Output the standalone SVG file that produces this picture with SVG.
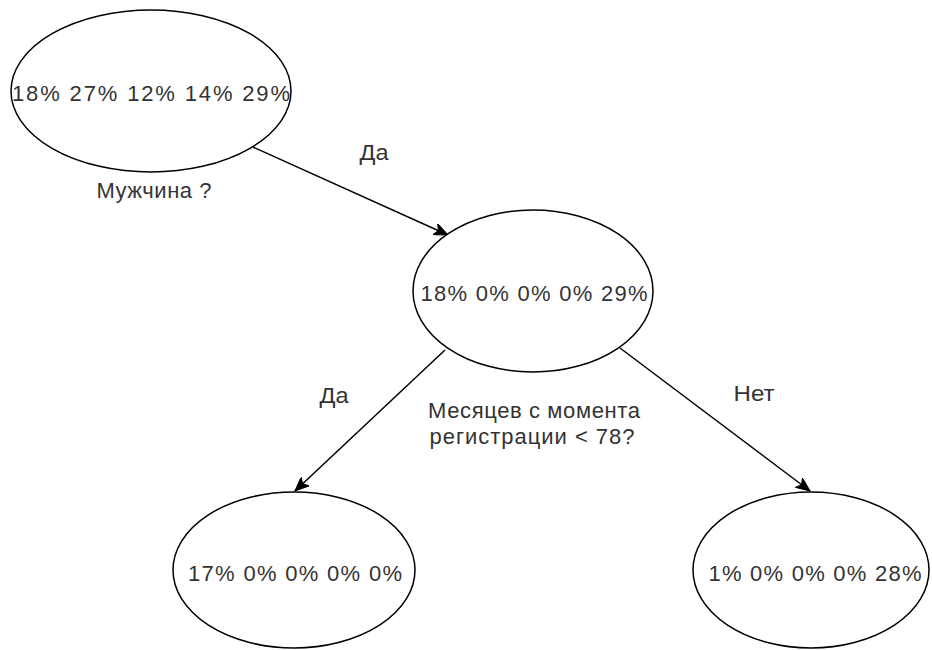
<svg xmlns="http://www.w3.org/2000/svg" width="932" height="650" viewBox="0 0 932 650">
<defs>
<style>
.node ellipse{fill:#ffffff;stroke:#000000;stroke-width:1.5}
.t{font-family:"Liberation Sans",Arial,sans-serif;font-size:22px;fill:#333333;text-anchor:middle}
.edge{stroke:#000000;stroke-width:1.5;fill:none;marker-end:url(#arr)}
</style>
<marker id="arr" markerUnits="userSpaceOnUse" markerWidth="16" markerHeight="12" refX="14" refY="6" orient="auto" viewBox="0 0 16 12">
<path d="M0,0 L14,6 L0,12 L3.5,6 Z" fill="#000000" stroke="#000000" stroke-width="1"/>
</marker>
</defs>
<rect width="932" height="650" fill="#ffffff"/>
<g id="connectors">
<line class="edge" x1="253" y1="147" x2="448" y2="235"/>
<line class="edge" x1="445" y1="350" x2="295" y2="491"/>
<line class="edge" x1="620" y1="348" x2="810" y2="491"/>
</g>
<g id="labels">
<text class="t" x="374" y="160" textLength="29" lengthAdjust="spacingAndGlyphs">Да</text>
<text class="t" x="154" y="198" textLength="115" lengthAdjust="spacing">Мужчина ?</text>
<text class="t" x="334" y="403" textLength="29" lengthAdjust="spacingAndGlyphs">Да</text>
<text class="t" x="754" y="401" textLength="41" lengthAdjust="spacingAndGlyphs">Нет</text>
<text class="t" x="534" y="418" textLength="212" lengthAdjust="spacing">Месяцев с момента</text>
<text class="t" x="532" y="444" textLength="205" lengthAdjust="spacing">регистрации &lt; 78?</text>
</g>
<g id="root" class="node">
<ellipse cx="151" cy="91" rx="140" ry="81"/>
<text class="t" x="151" y="101" textLength="278" lengthAdjust="spacing">18% 27% 12% 14% 29%</text>
</g>
<g id="male" class="node">
<ellipse cx="533" cy="291" rx="120" ry="81"/>
<text class="t" x="534" y="301" textLength="227" lengthAdjust="spacing">18% 0% 0% 0% 29%</text>
</g>
<g id="yes" class="node">
<ellipse cx="294" cy="570" rx="121" ry="78"/>
<text class="t" x="295" y="581" textLength="214" lengthAdjust="spacing">17% 0% 0% 0% 0%</text>
</g>
<g id="no" class="node">
<ellipse cx="811" cy="570" rx="118" ry="78"/>
<text class="t" x="815" y="581" textLength="213" lengthAdjust="spacing">1% 0% 0% 0% 28%</text>
</g>
</svg>
